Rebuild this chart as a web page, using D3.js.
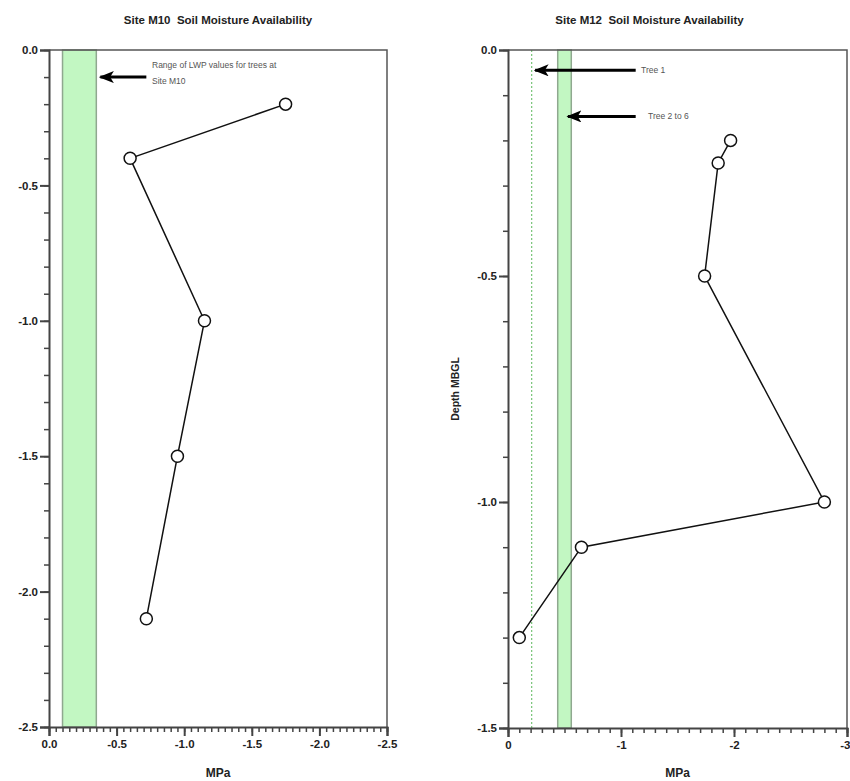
<!DOCTYPE html>
<html>
<head>
<meta charset="utf-8">
<script src="https://cdn.jsdelivr.net/npm/d3@7"></script>
<style>
  html, body { margin: 0; padding: 0; background: #fff; }
  svg { display: block; font-family: "Liberation Sans", Arial, sans-serif; }
</style>
</head>
<body>
<svg id="chart" width="850" height="781"></svg>
<script>
// ---- data ----
const m10Depth = [-0.2, -0.4, -1.0, -1.5, -2.1];
const m10MPa   = [-1.75, -0.6, -1.15, -0.95, -0.72];
const m10Band  = [-0.1, -0.35];           // range of LWP values for trees at Site M10
const m10XTicks = [0, -0.5, -1.0, -1.5, -2.0, -2.5];
const m10YTicks = [0, -0.5, -1.0, -1.5, -2.0, -2.5];

const m12Depth = [-0.2, -0.25, -0.5, -1.0, -1.1, -1.3];
const m12MPa   = [-1.97, -1.86, -1.74, -2.8, -0.65, -0.1];
const m12Tree1 = -0.21;                   // Tree 1 LWP
const m12Band  = [-0.44, -0.56];          // Trees 2 to 6 LWP range
const m12XTicks = [0, -1, -2, -3];
const m12YTicks = [0, -0.5, -1.0, -1.5];

const svg = d3.select("#chart");
const axisColor = "#444";
const textColor = "#222";

// arrow marker (tip at the line end, pointing along the line)
const defs = svg.append("defs");
defs.append("marker")
  .attr("id", "arrowhead")
  .attr("viewBox", "0 0 10 10")
  .attr("refX", 9).attr("refY", 5)
  .attr("markerWidth", 5).attr("markerHeight", 4)
  .attr("markerUnits", "strokeWidth")
  .attr("orient", "auto")
  .attr("preserveAspectRatio", "none")
  .append("path")
  .attr("d", "M10,5 L0,0 L2.5,5 L0,10 Z")
  .attr("fill", "#000");

function panel(opts) {
  const g = svg.append("g");
  const x = d3.scaleLinear().domain(opts.xDomain).range([opts.left, opts.right]);
  const y = d3.scaleLinear().domain(opts.yDomain).range([opts.top, opts.bottom]);

  if (opts.band) {
    g.append("rect")
      .attr("x", x(opts.band[0]))
      .attr("y", opts.top)
      .attr("width", x(opts.band[1]) - x(opts.band[0]))
      .attr("height", opts.bottom - opts.top)
      .attr("fill", "#c2f7c2")
      .attr("stroke", "#8fa88f")
      .attr("stroke-width", 1.5);
  }
  if (opts.dotted !== undefined) {
    g.append("line")
      .attr("x1", x(opts.dotted)).attr("x2", x(opts.dotted))
      .attr("y1", opts.top).attr("y2", opts.bottom)
      .attr("stroke", "#5cb85c").attr("stroke-width", 1)
      .attr("stroke-dasharray", "2,2");
  }

  // frame (top & right)
  g.append("path")
    .attr("d", `M${opts.left},${opts.top} H${opts.right} V${opts.bottom}`)
    .attr("fill", "none").attr("stroke", "#555").attr("stroke-width", 1.5);

  // minor ticks
  const yMinor = d3.range(opts.yDomain[0], opts.yDomain[1] - 1e-9, -opts.yMinorStep);
  const xMinor = d3.range(opts.xDomain[0], opts.xDomain[1] - 1e-9, -opts.xMinorStep);

  const yAxis = d3.axisLeft(y).tickValues(yMinor).tickSize(5).tickFormat("");
  g.append("g").attr("transform", `translate(${opts.left},0)`).call(yAxis)
    .call(s => { s.selectAll("line").attr("stroke", axisColor).attr("stroke-width", 1.5); s.select(".domain").remove(); });
  const xAxis = d3.axisBottom(x).tickValues(xMinor.concat([opts.xDomain[1]])).tickSize(5).tickFormat("");
  g.append("g").attr("transform", `translate(0,${opts.bottom})`).call(xAxis)
    .call(s => { s.selectAll("line").attr("stroke", axisColor).attr("stroke-width", 1.5); s.select(".domain").remove(); });

  // major axes
  const yMajor = d3.axisLeft(y).tickValues(opts.yTicks).tickSize(9).tickPadding(2)
    .tickFormat(d => d.toFixed(1));
  g.append("g").attr("transform", `translate(${opts.left},0)`).call(yMajor)
    .call(s => {
      s.select(".domain").attr("stroke", axisColor).attr("stroke-width", 2);
      s.selectAll("line").attr("stroke", axisColor).attr("stroke-width", 2);
      s.selectAll("text").attr("fill", textColor).attr("font-size", 11.5).attr("font-weight", "bold");
    });
  const xMajor = d3.axisBottom(x).tickValues(opts.xTicks).tickSize(9).tickPadding(4)
    .tickFormat(opts.xFormat);
  const xg = g.append("g").attr("transform", `translate(0,${opts.bottom})`).call(xMajor)
    .call(s => {
      s.select(".domain").attr("stroke", axisColor).attr("stroke-width", 2);
      s.selectAll("line").attr("stroke", axisColor).attr("stroke-width", 2);
      s.selectAll("text").attr("fill", textColor).attr("font-size", 11.5).attr("font-weight", "bold");
    });
  if (opts.lastLabelEnd) {
    xg.selectAll(".tick text").filter(d => d === opts.xTicks[opts.xTicks.length - 1])
      .attr("text-anchor", "end").attr("dx", 3);
  }

  // data line and markers
  const pts = opts.depth.map((d, i) => [opts.mpa[i], d]);
  g.append("path")
    .datum(pts)
    .attr("fill", "none").attr("stroke", "#111").attr("stroke-width", 1.5)
    .attr("d", d3.line().x(d => x(d[0])).y(d => y(d[1])));
  g.selectAll("circle.pt").data(pts).enter().append("circle")
    .attr("cx", d => x(d[0])).attr("cy", d => y(d[1])).attr("r", 6)
    .attr("fill", "#fff").attr("stroke", "#111").attr("stroke-width", 1.5);

  // title
  g.append("text")
    .attr("x", (opts.left + opts.right) / 2 + opts.titleDx).attr("y", 24)
    .attr("text-anchor", "middle").attr("font-size", 11.5).attr("font-weight", "bold")
    .attr("fill", textColor).attr("xml:space", "preserve")
    .text(opts.title);
  // x label
  g.append("text")
    .attr("x", (opts.left + opts.right) / 2).attr("y", 777)
    .attr("text-anchor", "middle").attr("font-size", 12).attr("font-weight", "bold")
    .attr("fill", textColor).text("MPa");

  return { g, x, y };
}

// Left panel: Site M10
const L = panel({
  left: 49, right: 387, top: 50, bottom: 727,
  xDomain: [0, -2.5], yDomain: [0, -2.5],
  xMinorStep: 0.05, yMinorStep: 0.1,
  xTicks: m10XTicks, yTicks: m10YTicks,
  xFormat: d => d.toFixed(1),
  depth: m10Depth, mpa: m10MPa,
  band: m10Band,
  title: "Site M10  Soil Moisture Availability", titleDx: 0
});
L.g.append("line")
  .attr("x1", L.x(-0.72)).attr("x2", L.x(-0.38))
  .attr("y1", L.y(-0.1)).attr("y2", L.y(-0.1))
  .attr("stroke", "#000").attr("stroke-width", 3)
  .attr("marker-end", "url(#arrowhead)");
const ann = L.g.append("text").attr("font-size", 8.5).attr("fill", "#555");
ann.append("tspan").attr("x", 152).attr("y", L.y(-0.1) - 9).text("Range of LWP values for trees at");
ann.append("tspan").attr("x", 152).attr("y", L.y(-0.1) + 7).text("Site M10");

// Right panel: Site M12
const R = panel({
  left: 508, right: 847, top: 50, bottom: 728,
  xDomain: [0, -3], yDomain: [0, -1.5],
  xMinorStep: 0.1, yMinorStep: 0.1,
  xTicks: m12XTicks, yTicks: m12YTicks,
  xFormat: d => String(d),
  lastLabelEnd: true,
  depth: m12Depth, mpa: m12MPa,
  band: m12Band, dotted: m12Tree1,
  title: "Site M12  Soil Moisture Availability", titleDx: -28
});
R.g.append("line")
  .attr("x1", R.x(-1.13)).attr("x2", R.x(-0.24))
  .attr("y1", R.y(-0.045)).attr("y2", R.y(-0.045))
  .attr("stroke", "#000").attr("stroke-width", 3)
  .attr("marker-end", "url(#arrowhead)");
R.g.append("text").attr("x", 641).attr("y", R.y(-0.045) + 3)
  .attr("font-size", 8.5).attr("fill", "#555").text("Tree 1");
R.g.append("line")
  .attr("x1", R.x(-1.13)).attr("x2", R.x(-0.53))
  .attr("y1", R.y(-0.147)).attr("y2", R.y(-0.147))
  .attr("stroke", "#000").attr("stroke-width", 3)
  .attr("marker-end", "url(#arrowhead)");
R.g.append("text").attr("x", 648).attr("y", R.y(-0.147) + 3)
  .attr("font-size", 8.5).attr("fill", "#555").text("Tree 2 to 6");
// y label
R.g.append("text")
  .attr("transform", `translate(459,${(50 + 728) / 2}) rotate(-90)`)
  .attr("text-anchor", "middle").attr("font-size", 10.5).attr("font-weight", "bold")
  .attr("fill", textColor).text("Depth MBGL");
</script>
</body>
</html>
